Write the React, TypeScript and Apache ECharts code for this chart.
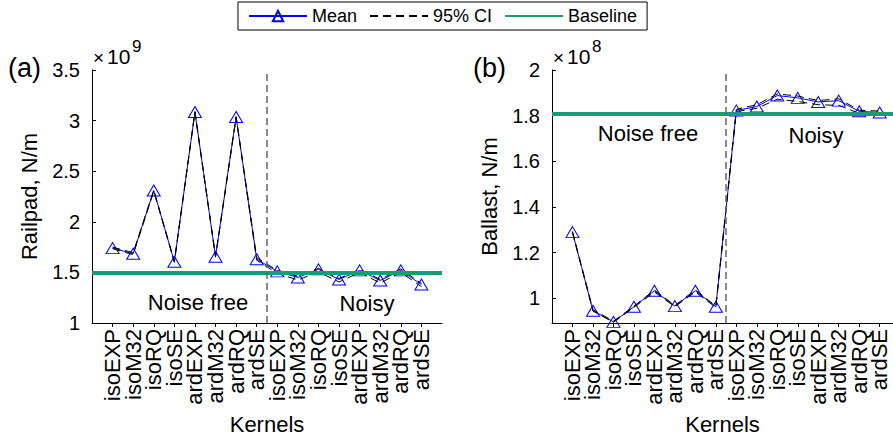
import React, { useEffect, useRef } from "react";
import * as echarts from "echarts";

const categories = [
  "isoEXP", "isoM32", "isoRQ", "isoSE", "ardEXP", "ardM32", "ardRQ", "ardSE",
  "isoEXP", "isoM32", "isoRQ", "isoSE", "ardEXP", "ardM32", "ardRQ", "ardSE",
];

// Railpad stiffness (x 1e9 N/m)
const railpadMean = [1.74, 1.685, 2.31, 1.605, 3.085, 1.655, 3.035, 1.63, 1.51, 1.45, 1.53, 1.43, 1.52, 1.42, 1.52, 1.38];
const railpadLower = [1.735, 1.675, 2.3, 1.6, 3.08, 1.65, 3.03, 1.62, 1.49, 1.425, 1.505, 1.405, 1.5, 1.395, 1.5, 1.36];
const railpadUpper = [1.75, 1.695, 2.315, 1.61, 3.09, 1.66, 3.04, 1.645, 1.52, 1.46, 1.54, 1.44, 1.53, 1.43, 1.535, 1.39];
const railpadBaseline = 1.5;

// Ballast stiffness (x 1e8 N/m)
const ballastMean = [1.29, 0.946, 0.897, 0.963, 1.033, 0.966, 1.033, 0.963, 1.823, 1.84, 1.888, 1.878, 1.86, 1.866, 1.819, 1.814];
const ballastLower = [1.287, 0.944, 0.895, 0.96, 1.028, 0.963, 1.028, 0.96, 1.818, 1.832, 1.872, 1.862, 1.848, 1.845, 1.81, 1.806];
const ballastUpper = [1.293, 0.95, 0.9, 0.966, 1.036, 0.969, 1.037, 0.966, 1.828, 1.848, 1.895, 1.886, 1.866, 1.874, 1.824, 1.82];
const ballastBaseline = 1.812;

const railpadTicks = [1, 1.5, 2, 2.5, 3, 3.5];
const ballastTicks = [1, 1.2, 1.4, 1.6, 1.8, 2];
const splitPosition = 8.5;

const FONT = "'Liberation Sans', Arial, Helvetica, sans-serif";
const BLUE = "#0000ff";
const GREEN = "#1a9a78";

export default function App() {
  const ref = useRef<HTMLDivElement>(null);

  useEffect(() => {
    if (!ref.current) return;
    const chart = echarts.init(ref.current, null, { renderer: "svg" });
    const xs = categories.map((_, i) => i + 1);
    const pts = (arr: number[]) => arr.map((v, i) => [xs[i], v]);

    const makeX = (gridIndex: number, max: number) => ({
      type: "value",
      gridIndex,
      min: 0,
      max,
      splitLine: { show: false },
      axisLine: { show: true, onZero: false, lineStyle: { color: "#000", width: 1 } },
      axisTick: { show: true, inside: false, length: 4, customValues: xs, lineStyle: { color: "#000" } },
      axisLabel: {
        customValues: [0, ...xs, max],
        showMinLabel: false,
        showMaxLabel: false,
        hideOverlap: false,
        rotate: 90,
        margin: 6,
        color: "#000",
        fontSize: 22,
        fontFamily: FONT,
        formatter: (v: number) => (Number.isInteger(v) ? categories[v - 1] ?? "" : ""),
      },
      name: "Kernels",
      nameLocation: "middle",
      nameGap: 90,
      nameTextStyle: { color: "#000", fontSize: 22, fontFamily: FONT },
    });

    const makeY = (gridIndex: number, min: number, max: number, ticks: number[], name: string) => ({
      type: "value",
      gridIndex,
      min,
      max,
      splitLine: { show: false },
      axisLine: { show: true, onZero: false, lineStyle: { color: "#000", width: 1 } },
      axisTick: { show: true, inside: true, length: 4, customValues: ticks, lineStyle: { color: "#000" } },
      axisLabel: {
        customValues: ticks,
        showMinLabel: true,
        showMaxLabel: true,
        margin: 12,
        color: "#000",
        fontSize: 20,
        fontFamily: FONT,
        formatter: (v: number) => String(Math.round(v * 10) / 10),
      },
      name,
      nameLocation: "middle",
      nameGap: 52,
      nameRotate: 90,
      nameTextStyle: { color: "#000", fontSize: 22, fontFamily: FONT },
    });

    const seriesFor = (idx: number, mean: number[], lo: number[], hi: number[], base: number) => [
      {
        name: "Mean",
        type: "line",
        xAxisIndex: idx,
        yAxisIndex: idx,
        data: pts(mean),
        symbol: "triangle",
        symbolSize: [13, 11],
        showSymbol: true,
        lineStyle: { color: BLUE, width: 1 },
        itemStyle: { color: "rgba(255,255,255,0)", borderColor: BLUE, borderWidth: 1 },
        z: 2,
      },
      {
        name: "95% CI",
        type: "line",
        xAxisIndex: idx,
        yAxisIndex: idx,
        data: pts(lo),
        symbol: "none",
        lineStyle: { color: "#000", width: 1, type: [8, 5] },
        itemStyle: { color: "#000" },
        z: 3,
      },
      {
        name: "95% CI",
        type: "line",
        xAxisIndex: idx,
        yAxisIndex: idx,
        data: pts(hi),
        symbol: "none",
        lineStyle: { color: "#000", width: 1, type: [8, 5] },
        itemStyle: { color: "#000" },
        z: 3,
      },
      {
        name: "Baseline",
        type: "line",
        xAxisIndex: idx,
        yAxisIndex: idx,
        data: [],
        symbol: "none",
        lineStyle: { color: GREEN, width: 4 },
        itemStyle: { color: GREEN },
        z: 4,
        markLine: {
          silent: true,
          symbol: "none",
          label: { show: false },
          animation: false,
          data: [
            { yAxis: base, lineStyle: { color: GREEN, width: 4, type: "solid" } },
            { xAxis: splitPosition, lineStyle: { color: "#666", width: 1.5, type: [7, 4] } },
          ],
        },
      },
    ];

    const txt = (x: number, y: number, text: string, fontSize: number, align = "center", vAlign = "middle") => ({
      type: "text",
      x,
      y,
      style: { text, fontSize, fontFamily: FONT, fill: "#000", align, verticalAlign: vAlign },
    });

    chart.setOption({
      animation: false,
      backgroundColor: "#fff",
      legend: {
        data: [
          { name: "Mean" },
          { name: "95% CI", itemStyle: { opacity: 0 } },
          { name: "Baseline", itemStyle: { opacity: 0 } },
        ],
        left: 238,
        top: 2,
        padding: [5, 10, 5, 10],
        itemWidth: 58,
        itemHeight: 13,
        itemGap: 12,
        borderColor: "#000",
        borderWidth: 1,
        textStyle: { color: "#000", fontSize: 18, fontFamily: FONT },
      },
      grid: [
        { left: 92, top: 70, width: 350, height: 253, outerBoundsMode: "none" },
        { left: 552, top: 70, width: 341, height: 253, outerBoundsMode: "none" },
      ],
      xAxis: [makeX(0, 17), makeX(1, 16.65)],
      yAxis: [
        makeY(0, 1, 3.5, railpadTicks, "Railpad, N/m"),
        makeY(1, 0.892, 2, ballastTicks, "Ballast, N/m"),
      ],
      series: [
        ...seriesFor(0, railpadMean, railpadLower, railpadUpper, railpadBaseline),
        ...seriesFor(1, ballastMean, ballastLower, ballastUpper, ballastBaseline),
      ],
      graphic: [
        txt(8, 68, "(a)", 27, "left"),
        txt(473, 68, "(b)", 27, "left"),
        txt(93, 67, "×", 19, "left", "bottom"),
        txt(107, 67, "10", 21, "left", "bottom"),
        txt(132, 55, "9", 17, "left", "bottom"),
        txt(553, 67, "×", 19, "left", "bottom"),
        txt(567, 67, "10", 21, "left", "bottom"),
        txt(592, 55, "8", 17, "left", "bottom"),
        txt(198, 302, "Noise free", 22),
        txt(367, 303, "Noisy", 22),
        txt(648, 133, "Noise free", 22),
        txt(816, 135, "Noisy", 22),
      ],
    });

    return () => chart.dispose();
  }, []);

  return (
    <div
      ref={ref}
      style={{ position: "fixed", left: 0, top: 0, width: 893, height: 436, background: "#fff" }}
    />
  );
}
